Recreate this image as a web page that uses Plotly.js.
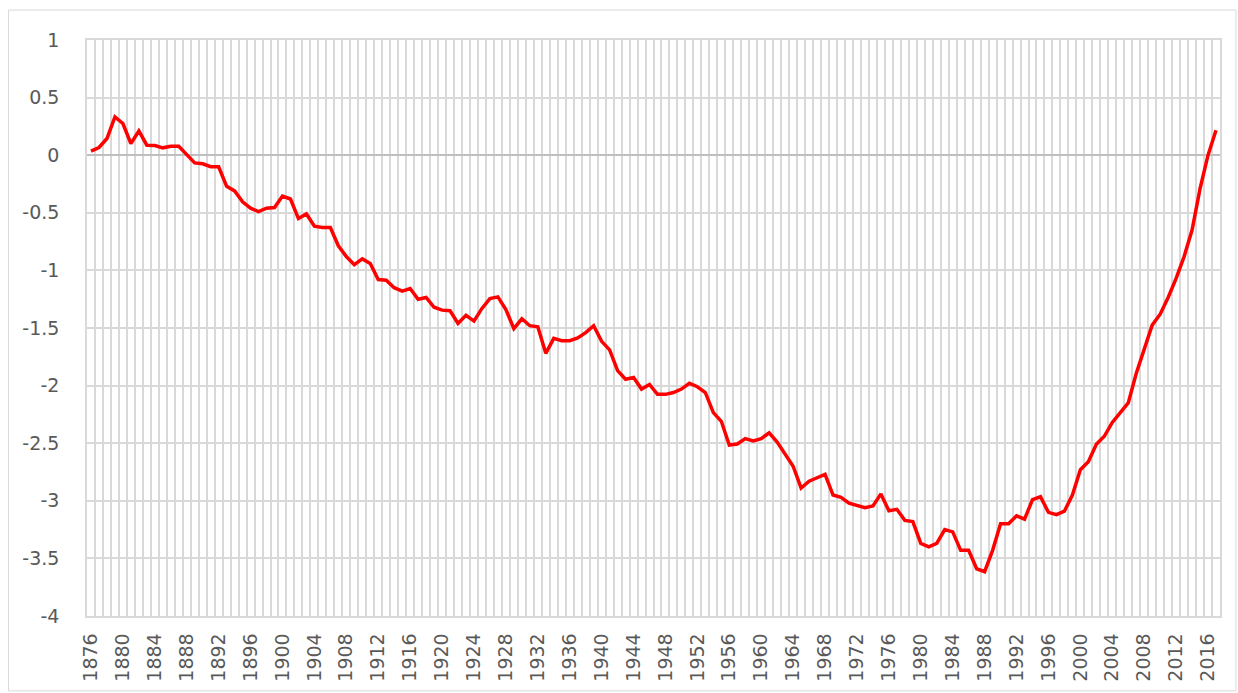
<!DOCTYPE html>
<html>
<head>
<meta charset="utf-8">
<script src="https://cdn.plot.ly/plotly-3.0.1.min.js"></script>
<style>
  html, body { margin: 0; padding: 0; background: #ffffff; }
  #chart { width: 1238px; height: 693px; }
</style>
</head>
<body>
<div id="chart"></div>
<script>
// Categories: years 1876-2017
const years = [
  1876,1877,1878,1879,1880,1881,1882,1883,1884,1885,1886,1887,1888,1889,1890,1891,1892,1893,1894,1895,
  1896,1897,1898,1899,1900,1901,1902,1903,1904,1905,1906,1907,1908,1909,1910,1911,1912,1913,1914,1915,
  1916,1917,1918,1919,1920,1921,1922,1923,1924,1925,1926,1927,1928,1929,1930,1931,1932,1933,1934,1935,
  1936,1937,1938,1939,1940,1941,1942,1943,1944,1945,1946,1947,1948,1949,1950,1951,1952,1953,1954,1955,
  1956,1957,1958,1959,1960,1961,1962,1963,1964,1965,1966,1967,1968,1969,1970,1971,1972,1973,1974,1975,
  1976,1977,1978,1979,1980,1981,1982,1983,1984,1985,1986,1987,1988,1989,1990,1991,1992,1993,1994,1995,
  1996,1997,1998,1999,2000,2001,2002,2003,2004,2005,2006,2007,2008,2009,2010,2011,2012,2013,2014,2015,
  2016,2017
];

// Series values
const values = [
  0.035, 0.067, 0.145, 0.333, 0.275, 0.10, 0.21, 0.087, 0.084, 0.064, 0.078, 0.078, 0.005, -0.067, -0.075, -0.10, -0.10, -0.27, -0.31, -0.405,
  -0.46, -0.49, -0.46, -0.455, -0.355, -0.38, -0.55, -0.51, -0.616, -0.627, -0.627, -0.786, -0.88, -0.95, -0.90, -0.94, -1.08, -1.085, -1.15, -1.18,
  -1.157, -1.25, -1.235, -1.32, -1.345, -1.35, -1.46, -1.39, -1.44, -1.33, -1.245, -1.23, -1.34, -1.506, -1.42, -1.48, -1.49, -1.72, -1.59, -1.61,
  -1.61, -1.587, -1.54, -1.48, -1.616, -1.69, -1.87, -1.945, -1.93, -2.03, -1.99, -2.076, -2.076, -2.06, -2.03, -1.98, -2.01, -2.06, -2.235, -2.31,
  -2.516, -2.507, -2.46, -2.48, -2.46, -2.41, -2.49, -2.59, -2.70, -2.89, -2.83, -2.80, -2.77, -2.95, -2.97, -3.02, -3.04, -3.06, -3.045, -2.94,
  -3.086, -3.074, -3.17, -3.18, -3.37, -3.40, -3.37, -3.25, -3.27, -3.43, -3.43, -3.59, -3.615, -3.43, -3.20, -3.20, -3.13, -3.16, -2.99, -2.965,
  -3.10, -3.12, -3.09, -2.95, -2.73, -2.66, -2.51, -2.44, -2.32, -2.23, -2.15, -1.895, -1.68, -1.475, -1.38, -1.235, -1.07, -0.88, -0.65, -0.29,
  0.0, 0.217
];

// Tick labels
const xTickVals = [1876,1880,1884,1888,1892,1896,1900,1904,1908,1912,1916,1920,1924,1928,1932,1936,1940,1944,1948,1952,1956,1960,1964,1968,1972,1976,1980,1984,1988,1992,1996,2000,2004,2008,2012,2016];
const xTickText = xTickVals.map(String);
const yTickVals = [1, 0.5, 0, -0.5, -1, -1.5, -2, -2.5, -3, -3.5, -4];
const yTickText = ["1", "0.5", "0", "-0.5", "-1", "-1.5", "-2", "-2.5", "-3", "-3.5", "-4"];

const trace = {
  x: years,
  y: values,
  type: 'scatter',
  mode: 'lines',
  line: { color: '#FF0000', width: 3.5 },
  hoverinfo: 'x+y'
};

const gridColor = '#D9D9D9';
const tickFont = { family: 'DejaVu Sans, Verdana, sans-serif', size: 19, color: '#595959' };

const layout = {
  width: 1238,
  height: 693,
  margin: { l: 87, r: 18, t: 40, b: 77, pad: 0 },
  paper_bgcolor: '#ffffff',
  plot_bgcolor: '#ffffff',
  showlegend: false,
  xaxis: {
    type: 'linear',
    range: [years[0] - 0.5, years[years.length - 1] + 0.5],
    tickmode: 'array',
    tickvals: xTickVals,
    ticktext: xTickText,
    tickangle: -90,
    ticks: '',
    showgrid: false,
    zeroline: false,
    showline: true,
    linecolor: gridColor,
    linewidth: 1.5,
    mirror: true,
    tickfont: tickFont,
    ticklabelstandoff: 8,
    minor: {
      tick0: years[0] - 0.5,
      dtick: 1,
      showgrid: true,
      gridcolor: gridColor,
      gridwidth: 1.5,
      ticks: ''
    }
  },
  yaxis: {
    range: [-4, 1],
    tickmode: 'array',
    tickvals: yTickVals,
    ticktext: yTickText,
    ticks: '',
    showgrid: true,
    gridcolor: gridColor,
    gridwidth: 1.5,
    zeroline: true,
    zerolinecolor: '#BFBFBF',
    zerolinewidth: 1.5,
    showline: true,
    linecolor: gridColor,
    linewidth: 1.5,
    mirror: true,
    tickfont: tickFont,
    ticklabelstandoff: 22
  },
  shapes: [
    {
      type: 'rect', xref: 'paper', yref: 'paper',
      x0: -0.0693, x1: 1.0141, y0: -0.130, y1: 1.052,
      line: { color: '#D9D9D9', width: 1 },
      fillcolor: 'rgba(0,0,0,0)',
      layer: 'below'
    }
  ]
};

Plotly.newPlot('chart', [trace], layout, { displayModeBar: false, staticPlot: false });
</script>
</body>
</html>
